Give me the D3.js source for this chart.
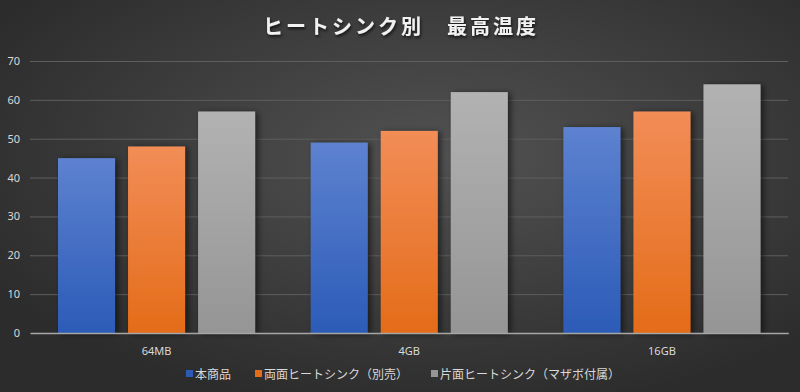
<!DOCTYPE html>
<html><head><meta charset="utf-8">
<script src="https://cdn.jsdelivr.net/npm/d3@7"></script>
<style>body{margin:0;background:#333;}svg{display:block;font-family:"Noto Sans CJK JP","Noto Sans",sans-serif;}</style>
</head><body><svg id="c" width="800" height="392"></svg>
<script>
const categories = ["64MB", "4GB", "16GB"];
const seriesNames = ["本商品", "両面ヒートシンク（別売）", "片面ヒートシンク（マザボ付属）"];
const seriesValues = [
  [45, 49, 53],
  [48, 52, 57],
  [57, 62, 64]
];
const yTicks = [0, 10, 20, 30, 40, 50, 60, 70];
const titleText = "ヒートシンク別　最高温度";

const W = 800, H = 392;
const svg = d3.select("#c");
const defs = svg.append("defs");
const bg = defs.append("radialGradient").attr("id","bg").attr("cx","55%").attr("cy","40%").attr("r","65%");
bg.append("stop").attr("offset","0%").attr("stop-color","#525252");
bg.append("stop").attr("offset","100%").attr("stop-color","#2c2c2c");
svg.append("rect").attr("width",W).attr("height",H).attr("fill","url(#bg)");

const grads = [["#5d82d0","#2c5bb7"],["#f28d57","#e46c19"],["#b2b2b2","#959595"]];
grads.forEach((g,i)=>{
  const lg = defs.append("linearGradient").attr("id","g"+i).attr("x1",0).attr("y1",0).attr("x2",0).attr("y2",1);
  lg.append("stop").attr("offset","0%").attr("stop-color",g[0]);
  lg.append("stop").attr("offset","100%").attr("stop-color",g[1]);
});
const f = defs.append("filter").attr("id","sh").attr("x","-20%").attr("y","-20%").attr("width","160%").attr("height","140%");
f.append("feDropShadow").attr("dx",3).attr("dy",1).attr("stdDeviation",3).attr("flood-color","#000").attr("flood-opacity",0.55);
const tf = defs.append("filter").attr("id","tsh");
tf.append("feDropShadow").attr("dx",1).attr("dy",2).attr("stdDeviation",1.5).attr("flood-color","#000").attr("flood-opacity",0.7);

const x0 = d3.scaleBand().domain(categories).range([30.2, 788.3]).paddingInner(0).paddingOuter(0);
const x1 = d3.scaleBand().domain(d3.range(seriesNames.length)).range([27.8, x0.bandwidth()-27.8]).paddingInner(13/70).paddingOuter(0);
const y = d3.scaleLinear().domain([0,70]).range([333,61]);

const yAxis = svg.append("g").attr("transform","translate(30,0)")
  .call(d3.axisLeft(y).tickValues(yTicks).tickSize(-758).tickPadding(10));
yAxis.select(".domain").remove();
yAxis.selectAll(".tick line").attr("stroke","#5e5e5e").attr("stroke-width",1);
yAxis.selectAll(".tick text").attr("fill","#d9d9d9").attr("font-size","11px").attr("font-family","'Noto Sans',sans-serif");

seriesNames.forEach((s,si)=>{
  svg.append("g").selectAll("rect").data(categories).join("rect")
    .attr("x",c=>x0(c)+x1(si))
    .attr("y",(c,ci)=>y(seriesValues[si][ci]))
    .attr("width",x1.bandwidth())
    .attr("height",(c,ci)=>y(0)-y(seriesValues[si][ci]))
    .attr("fill","url(#g"+si+")")
    .attr("filter","url(#sh)");
});

const xAxis = svg.append("g").attr("transform","translate(0,333)")
  .call(d3.axisBottom(x0).tickSize(0).tickPadding(14));
xAxis.select(".domain").attr("stroke","#a6a6a6").attr("stroke-width",1.5);
xAxis.selectAll(".tick text").attr("fill","#d9d9d9").attr("font-size","11px").attr("font-family","'Noto Sans',sans-serif");

svg.append("text").attr("x",401).attr("y",34).attr("text-anchor","middle")
  .attr("fill","#f2f2f2").attr("font-size","20px").attr("font-weight","bold")
  .attr("letter-spacing","3px").attr("filter","url(#tsh)").text(titleText);

const legX = [186, 255, 431];
const leg = svg.append("g");
seriesNames.forEach((s,i)=>{
  const g = leg.append("g").attr("transform",`translate(${legX[i]},375)`);
  g.append("rect").attr("x",0).attr("y",-5).attr("width",7).attr("height",7).attr("fill",grads[i][1]);
  g.append("text").attr("x",9).attr("y",4).attr("fill","#d9d9d9").attr("font-size","12px").text(s);
});
</script></body></html>
